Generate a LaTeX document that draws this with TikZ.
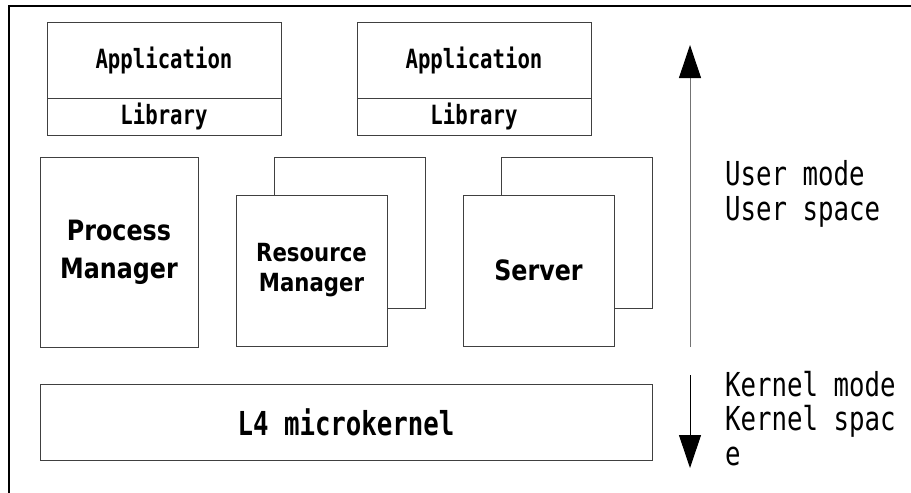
\documentclass[tikz,border=0pt]{standalone}
\usepackage{fontspec}
\newfontfamily\gothmono[FakeStretch=0.78]{DejaVu Sans Mono}
\newfontfamily\gothsans[FakeStretch=0.85]{DejaVu Sans}
\usetikzlibrary{arrows.meta,positioning}

\begin{document}
\begin{tikzpicture}[x=1pt, y=-1pt,
    blk/.style={rectangle, draw=black!75, line width=1pt, fill=white,
      inner sep=0pt, align=center},
    apptxt/.style={font=\gothmono\bfseries\fontsize{26.5}{30}\selectfont},
    srvtxt/.style={font=\gothsans\bfseries\fontsize{28}{38}\selectfont},
    modetxt/.style={font=\gothmono\fontsize{33}{34.5}\selectfont,
      align=left, inner sep=0pt, anchor=base west},
    updown/.style={line width=1pt, -{Triangle[width=22pt,length=33pt,color=black]}}
  ]
    \useasboundingbox (0,0) rectangle (911,493);

    % Frame
    \draw[line width=1.2pt] (9,493) -- (9,6) -- (911,6);

    % Applications
    \node[blk, apptxt, minimum width=234, minimum height=76] (app1) at (164,60)    {Application};
    \node[blk, apptxt, minimum width=234, minimum height=37] (lib1) at (164,116.5) {Library};
    \node[blk, apptxt, minimum width=234, minimum height=76] (app2) at (474,60)    {Application};
    \node[blk, apptxt, minimum width=234, minimum height=37] (lib2) at (474,116.5) {Library};

    % Servers
    \node[blk, srvtxt, minimum width=158, minimum height=190] (proc) at (119,252) {Process\\Manager};
    \node[blk, minimum width=151, minimum height=151] (res0) at (349.5,232.5) {};
    \node[blk, srvtxt, font=\gothsans\bfseries\fontsize{25}{30}\selectfont,
      minimum width=151, minimum height=151] (res) at (311.5,270.5) {Resource\\Manager};
    \node[blk, minimum width=151, minimum height=151] (srv0) at (576.5,232.5) {};
    \node[blk, srvtxt, minimum width=151, minimum height=151] (srv) at (538.5,270.5) {Server};

    % Kernel
    \node[blk, apptxt, font=\gothmono\bfseries\fontsize{33}{34}\selectfont,
      minimum width=612, minimum height=76] (l4) at (346,422) {L4 microkernel};

    % Mode arrows
    \coordinate (up0) at (690,347);
    \coordinate (up1) at (690,45);
    \coordinate (dn0) at (690,375);
    \coordinate (dn1) at (690,468);
    \draw[updown, draw=black!55] (up0) -- (up1);
    \draw[updown] (dn0) -- (dn1);

    \node[modetxt] (user) at (725,220) {User mode\\User space};
    \node[modetxt] (kern) at (725,465) {Kernel mode\\Kernel spac\\e};
  \end{tikzpicture}
\end{document}
